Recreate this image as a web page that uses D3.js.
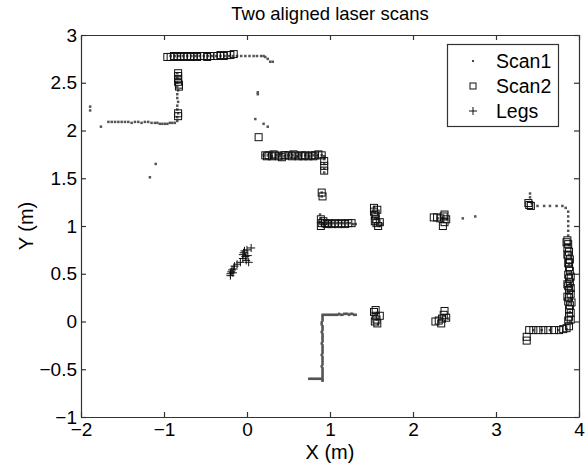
<!DOCTYPE html>
<html>
<head>
<meta charset="utf-8">
<script src="https://cdn.jsdelivr.net/npm/d3@7"></script>
<style>
body { margin: 0; background: #fff; }
svg { font-family: "Liberation Sans", Arial, sans-serif; }
</style>
</head>
<body>
<div id="chart"></div>
<script>
// scan points (metres)
var scan1 = [
	[-1.89,2.25],[-1.89,2.21],[-1.76,2.04],
	[-1.67,2.09],[-1.63,2.09],[-1.59,2.09],[-1.55,2.09],[-1.51,2.09],[-1.47,2.09],[-1.43,2.09],[-1.39,2.08],
	[-1.35,2.09],[-1.31,2.09],[-1.27,2.08],[-1.23,2.09],[-1.19,2.09],[-1.15,2.08],[-1.11,2.08],[-1.08,2.08],
	[-1.05,2.07],[-1.02,2.07],[-0.99,2.07],[-0.96,2.07],[-0.93,2.08],[-0.90,2.08],[-0.87,2.08],
	[-0.84,2.10],[-0.84,2.14],[-0.83,2.18],[-0.84,2.22],[-0.84,2.26],[-0.83,2.30],[-0.84,2.34],[-0.84,2.38],
	[-0.83,2.42],[-0.84,2.46],[-0.84,2.50],[-0.84,2.55],[-0.84,2.60],
	[-0.92,2.78],[-0.87,2.78],[-0.82,2.78],[-0.77,2.78],[-0.72,2.78],[-0.67,2.78],[-0.62,2.78],[-0.57,2.78],
	[-0.52,2.78],[-0.47,2.78],[-0.42,2.78],[-0.37,2.78],[-0.32,2.78],[-0.27,2.78],[-0.22,2.78],[-0.17,2.78],
	[-0.12,2.78],[-0.07,2.78],[-0.02,2.78],[0.03,2.78],[0.08,2.78],[0.12,2.78],[0.17,2.78],[0.20,2.78],
	[0.22,2.77],[0.25,2.75],[0.28,2.72],[0.31,2.72],
	[0.13,2.40],[0.13,2.38],[0.10,2.12],[0.20,2.07],[0.25,2.04],
	[-1.17,1.51],[-1.10,1.65],
	[0.20,1.74],[0.25,1.74],[0.30,1.73],[0.35,1.74],[0.40,1.74],[0.45,1.73],[0.50,1.74],[0.55,1.74],
	[0.60,1.73],[0.65,1.74],[0.70,1.74],[0.75,1.73],[0.80,1.74],[0.85,1.74],[0.90,1.74],[0.93,1.73],
	[0.93,1.70],[0.93,1.65],[0.93,1.60],[0.93,1.56],
	[0.90,1.35],[0.90,1.31],
	[0.88,1.12],[0.89,1.08],[0.88,1.04],[0.92,1.03],[0.96,1.03],[1.00,1.03],[1.04,1.03],[1.08,1.03],
	[1.12,1.03],[1.16,1.03],[1.20,1.03],[1.24,1.03],[1.28,1.02],[1.31,1.02],
	[1.53,1.20],[1.54,1.14],[1.55,1.08],[1.57,1.03],[1.60,1.00],[1.63,1.02],
	[2.30,1.08],[2.36,1.08],[2.41,1.07],[2.60,1.08],[2.75,1.10],
	[3.41,1.34],[3.41,1.30],[3.43,1.24],[3.50,1.21],[3.58,1.21],[3.65,1.21],[3.73,1.21],[3.80,1.21],
	[3.84,1.19],[3.87,1.15],[3.87,1.10],[3.87,1.05],[3.87,1.00],[3.87,0.95],[3.87,0.90],
	[3.88,0.80],[3.88,0.70],[3.88,0.60],[3.89,0.50],[3.89,0.40],[3.88,0.30],[3.89,0.20],[3.89,0.10],[3.89,0.00],
	[3.45,-0.09],[3.55,-0.09],[3.65,-0.09],[3.75,-0.09],[3.85,-0.08],
	[0.91,0.07],[0.91,0.05],[0.91,0.03],[0.91,0.01],[0.90,-0.01],[0.90,-0.03],[0.91,-0.05],[0.91,-0.07],
	[0.91,-0.09],[0.90,-0.11],[0.91,-0.13],[0.91,-0.15],[0.91,-0.17],[0.91,-0.19],[0.91,-0.21],[0.90,-0.23],
	[0.91,-0.25],[0.91,-0.27],[0.91,-0.29],[0.91,-0.31],[0.91,-0.33],[0.90,-0.35],[0.91,-0.37],[0.91,-0.39],
	[0.91,-0.41],[0.91,-0.43],[0.91,-0.45],[0.90,-0.47],[0.91,-0.49],[0.91,-0.51],[0.91,-0.53],[0.91,-0.55],
	[0.91,-0.57],[0.91,-0.59],[0.91,-0.61],[0.91,-0.62],
	[0.75,-0.60],[0.77,-0.60],[0.79,-0.60],[0.81,-0.60],[0.83,-0.60],[0.85,-0.60],[0.87,-0.60],[0.89,-0.60],
	[0.93,0.07],[0.95,0.07],[0.97,0.07],[0.99,0.07],[1.01,0.07],[1.03,0.07],[1.05,0.07],[1.07,0.07],
	[1.09,0.07],[1.11,0.08],[1.13,0.07],[1.15,0.07],[1.17,0.08],[1.19,0.08],[1.21,0.08],[1.23,0.07],
	[1.25,0.08],[1.27,0.08],[1.29,0.07],[1.31,0.07],
	[1.54,0.08],[1.56,0.02],[1.58,-0.03],[2.33,0.02],[2.38,0.06],[2.42,0.03]
];
var scan2 = [
	[-0.96,2.77],[-0.92,2.77],[-0.88,2.78],[-0.84,2.77],[-0.80,2.78],[-0.76,2.77],[-0.72,2.78],[-0.68,2.77],
	[-0.64,2.78],[-0.60,2.77],[-0.56,2.78],[-0.52,2.78],[-0.48,2.77],[-0.44,2.78],[-0.40,2.78],[-0.36,2.78],
	[-0.32,2.79],[-0.28,2.78],[-0.24,2.79],[-0.20,2.79],[-0.16,2.80],
	[-0.83,2.60],[-0.83,2.57],[-0.83,2.54],[-0.83,2.51],[-0.82,2.48],[-0.82,2.46],[-0.83,2.18],[-0.83,2.15],
	[0.14,1.93],
	[0.22,1.74],[0.26,1.74],[0.30,1.73],[0.34,1.74],[0.38,1.73],[0.42,1.72],[0.46,1.74],[0.50,1.74],
	[0.54,1.73],[0.58,1.74],[0.62,1.73],[0.66,1.74],[0.70,1.74],[0.74,1.73],[0.78,1.74],[0.82,1.74],
	[0.86,1.75],[0.90,1.74],[0.24,1.73],[0.32,1.75],[0.44,1.74],[0.56,1.75],[0.68,1.73],[0.80,1.73],
	[0.93,1.68],[0.93,1.63],[0.93,1.58],
	[0.90,1.35],[0.91,1.31],
	[0.89,1.07],[0.89,1.00],[0.90,1.03],[0.94,1.03],[0.98,1.03],[1.02,1.02],[1.06,1.03],[1.10,1.02],
	[1.14,1.03],[1.18,1.02],[1.22,1.03],[1.26,1.03],[0.92,1.05],[0.96,1.02],
	[1.53,1.19],[1.53,1.15],[1.54,1.11],[1.55,1.07],[1.56,1.03],[1.58,1.00],[1.60,1.04],[1.57,1.17],
	[1.55,1.13],[1.54,1.05],
	[2.25,1.09],[2.29,1.09],[2.33,1.08],[2.37,1.10],[2.38,1.04],[2.36,1.00],[2.40,1.07],[2.38,1.12],
	[1.53,0.10],[1.55,0.06],[1.56,0.02],[1.57,-0.02],[1.60,0.06],[1.54,0.00],[1.55,0.12],
	[2.27,0.00],[2.31,0.01],[2.35,0.03],[2.37,0.07],[2.38,0.11],[2.40,0.04],[2.34,-0.02],
	[3.39,1.24],[3.42,1.21],[3.40,1.22],
	[3.86,0.85],[3.87,0.81],[3.86,0.77],[3.88,0.73],[3.87,0.69],[3.89,0.65],[3.87,0.61],[3.88,0.57],
	[3.89,0.53],[3.87,0.49],[3.88,0.45],[3.89,0.41],[3.87,0.37],[3.88,0.33],[3.90,0.29],[3.88,0.25],
	[3.87,0.21],[3.89,0.17],[3.88,0.13],[3.90,0.09],[3.88,0.05],[3.87,0.01],[3.90,0.02],
	[3.85,0.83],[3.86,0.70],[3.88,0.62],[3.90,0.47],[3.86,0.39],[3.90,0.35],[3.86,0.26],[3.91,0.20],
	[3.40,-0.09],[3.45,-0.09],[3.51,-0.09],[3.57,-0.09],[3.63,-0.09],[3.70,-0.09],[3.76,-0.09],
	[3.81,-0.08],[3.85,-0.07],[3.88,-0.05],[3.37,-0.16],[3.37,-0.20]
];
var legs = [
	[-0.20,0.48],[-0.20,0.50],[-0.19,0.52],[-0.18,0.54],[-0.16,0.55],[-0.17,0.51],[-0.15,0.58],
	[-0.12,0.60],[-0.08,0.62],[-0.05,0.66],[-0.05,0.70],[-0.04,0.72],[-0.02,0.68],[-0.01,0.64],
	[0.02,0.62],[0.00,0.75],[0.05,0.77],[-0.03,0.74],[0.01,0.69]
];
var xTicks = [-2, -1, 0, 1, 2, 3, 4];
var yTicks = [-1, -0.5, 0, 0.5, 1, 1.5, 2, 2.5, 3];
var legendNames = ["Scan1", "Scan2", "Legs"];

drawScans();

function drawScans() {
	var W = 588, H = 465;
	var mLeft = 81, mRight = 579, mTop = 35, mBottom = 417;
	var x = d3.scaleLinear().domain([-2, 4]).range([mLeft, mRight]);
	var y = d3.scaleLinear().domain([-1, 3]).range([mBottom, mTop]);
	var fmt = function(d) { return String(d).replace("-", "\u2212"); };

	var svg = d3.select("#chart").append("svg").attr("width", W).attr("height", H);
	svg.append("rect").attr("width", W).attr("height", H).attr("fill", "#fff");

	// frame with inward ticks on all sides
	var axisColor = "#333";
	svg.append("g").attr("transform", "translate(0," + mBottom + ")")
		.call(d3.axisBottom(x).tickValues(xTicks).tickSizeInner(-5).tickSizeOuter(0).tickPadding(6).tickFormat(fmt));
	svg.append("g").attr("transform", "translate(0," + mTop + ")")
		.call(d3.axisTop(x).tickValues(xTicks).tickSizeInner(-5).tickSizeOuter(0).tickFormat(""));
	svg.append("g").attr("transform", "translate(" + mLeft + ",0)")
		.call(d3.axisLeft(y).tickValues(yTicks).tickSizeInner(-5).tickSizeOuter(0).tickPadding(4).tickFormat(fmt));
	svg.append("g").attr("transform", "translate(" + mRight + ",0)")
		.call(d3.axisRight(y).tickValues(yTicks).tickSizeInner(-5).tickSizeOuter(0).tickFormat(""));
	svg.selectAll(".domain, .tick line").attr("stroke", axisColor).attr("stroke-width", 1.2);
	svg.selectAll(".tick text").attr("fill", "#000").style("font-size", "19px")
		.style("font-family", "'Liberation Sans', Arial, sans-serif");

	// scan1 dots
	svg.append("g").selectAll("rect.s1").data(scan1).enter().append("rect")
		.attr("class", "s1")
		.attr("x", function(d) { return x(d[0]) - 1.25; })
		.attr("y", function(d) { return y(d[1]) - 1.25; })
		.attr("width", 2.5).attr("height", 2.5)
		.attr("fill", "#555");

	// scan2 squares
	svg.append("g").selectAll("rect.s2").data(scan2).enter().append("rect")
		.attr("class", "s2")
		.attr("x", function(d) { return x(d[0]) - 3.5; })
		.attr("y", function(d) { return y(d[1]) - 3.5; })
		.attr("width", 7).attr("height", 7)
		.attr("fill", "none").attr("stroke", "#111").attr("stroke-width", 1);

	// legs as plus signs
	var plus = "M-4,0H4M0,-4V4";
	svg.append("g").selectAll("path.lg").data(legs).enter().append("path")
		.attr("class", "lg")
		.attr("d", plus)
		.attr("transform", function(d) { return "translate(" + x(d[0]) + "," + y(d[1]) + ")"; })
		.attr("stroke", "#111").attr("stroke-width", 1).attr("fill", "none");

	// legend
	var lg = svg.append("g");
	lg.append("rect").attr("x", 447.5).attr("y", 44.5).attr("width", 111).attr("height", 82)
		.attr("fill", "#fff").attr("stroke", axisColor).attr("stroke-width", 1.2);
	legendNames.forEach(function(name, i) {
		var cy = 61 + i * 25;
		if (i === 0) {
			lg.append("rect").attr("x", 472).attr("y", cy - 1).attr("width", 2).attr("height", 2).attr("fill", "#444");
		} else if (i === 1) {
			lg.append("rect").attr("x", 470).attr("y", cy - 3).attr("width", 6).attr("height", 6)
				.attr("fill", "none").attr("stroke", "#111");
		} else {
			lg.append("path").attr("d", plus).attr("transform", "translate(473," + cy + ")")
				.attr("stroke", "#111").attr("fill", "none");
		}
		lg.append("text").attr("x", 496).attr("y", cy + 7).text(name)
			.style("font-size", "19.5px").attr("fill", "#000");
	});

	// title and axis labels
	svg.append("text").attr("x", (mLeft + mRight) / 2).attr("y", 20).attr("text-anchor", "middle")
		.style("font-size", "18.5px").text("Two aligned laser scans");
	svg.append("text").attr("x", (mLeft + mRight) / 2).attr("y", 459).attr("text-anchor", "middle")
		.style("font-size", "20px").text("X (m)");
	svg.append("text").attr("transform", "translate(33," + ((mTop + mBottom) / 2) + ") rotate(-90)")
		.attr("text-anchor", "middle").style("font-size", "20px").text("Y (m)");
}
</script>
</body>
</html>
